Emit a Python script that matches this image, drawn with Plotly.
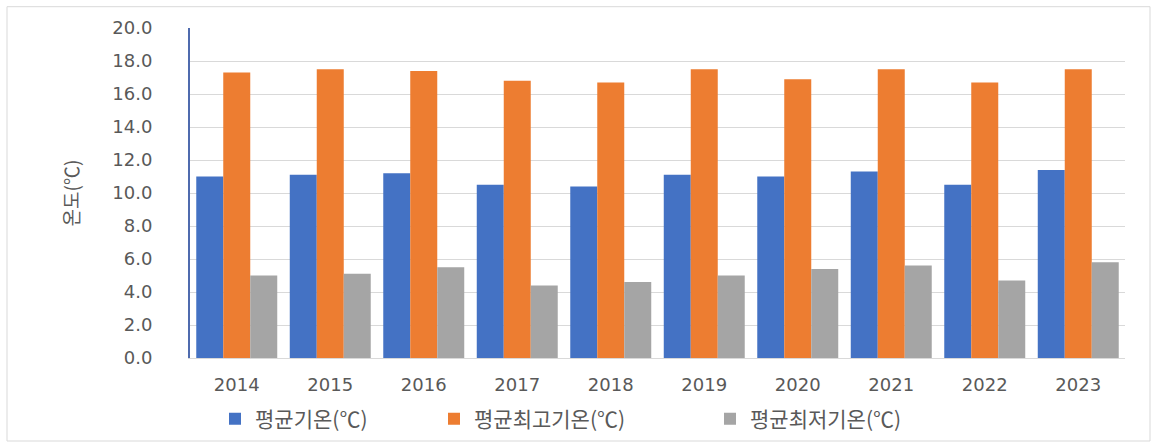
import plotly.graph_objects as go

years = ["2014", "2015", "2016", "2017", "2018", "2019", "2020", "2021", "2022", "2023"]
avg_temp = [11.0, 11.1, 11.2, 10.5, 10.4, 11.1, 11.0, 11.3, 10.5, 11.4]
avg_max_temp = [17.3, 17.5, 17.4, 16.8, 16.7, 17.5, 16.9, 17.5, 16.7, 17.5]
avg_min_temp = [5.0, 5.1, 5.5, 4.4, 4.6, 5.0, 5.4, 5.6, 4.7, 5.8]
series_names = ["평균기온(℃)", "평균최고기온(℃)", "평균최저기온(℃)"]
colors = ["#4472C4", "#ED7D31", "#A5A5A5"]
y_title = "온도(℃)"
y_ticks = [0, 2, 4, 6, 8, 10, 12, 14, 16, 18, 20]

W, H = 1157, 444
ml, mr, mt, mb = 190, 32, 28, 86
pw, ph = W - ml - mr, H - mt - mb

def px_x(p):
    return (p - ml) / pw

def px_y(p):
    return (H - mb - p) / ph

legend_keys = ["legend", "legend2", "legend3"]
legend_centers = [233, 452, 728]

fig = go.Figure()
for name, vals, col, lk in zip(series_names, [avg_temp, avg_max_temp, avg_min_temp], colors, legend_keys):
    fig.add_trace(go.Bar(x=years, y=vals, name=name, legend=lk,
                         marker=dict(color=col, line=dict(width=0))))

tick_font = dict(family="DejaVu Sans, sans-serif", size=18, color="#595959")
kr_font = "Noto Sans CJK KR, sans-serif"

legend_layout = {}
for lk, cx in zip(legend_keys, legend_centers):
    legend_layout[lk] = dict(orientation="h", x=px_x(cx - 18), xanchor="left",
                             y=px_y(419), yanchor="middle",
                             font=dict(family=kr_font, size=21, color="#595959"),
                             bgcolor="rgba(0,0,0,0)")

fig.update_layout(
    width=W, height=H,
    margin=dict(l=ml, r=mr, t=mt, b=mb, autoexpand=False),
    paper_bgcolor="white", plot_bgcolor="white",
    barmode="group", bargap=0.134, bargroupgap=0,
    showlegend=True,
    shapes=[dict(type="rect", xref="paper", yref="paper",
                 x0=px_x(7), x1=px_x(1150), y0=px_y(441), y1=px_y(6.7),
                 line=dict(color="#D9D9D9", width=1), layer="below")],
    **legend_layout,
)
fig.update_yaxes(range=[0, 20], tickvals=y_ticks, tickformat=".1f",
                 tickfont=tick_font, ticks="", ticklabelstandoff=32,
                 showgrid=True, gridcolor="#D9D9D9", gridwidth=1,
                 showline=True, linecolor="#4F6BAE", linewidth=2,
                 zeroline=False,
                 title=dict(text=y_title, font=dict(family=kr_font, size=19, color="#595959"), standoff=28))
fig.update_xaxes(type="category", tickfont=tick_font, ticks="", ticklabelstandoff=10,
                 showline=True, linecolor="#D9D9D9", linewidth=1, showgrid=False)

fig.write_html("out.html", config={"displayModeBar": False},
               post_script="document.body.style.margin='0';")
